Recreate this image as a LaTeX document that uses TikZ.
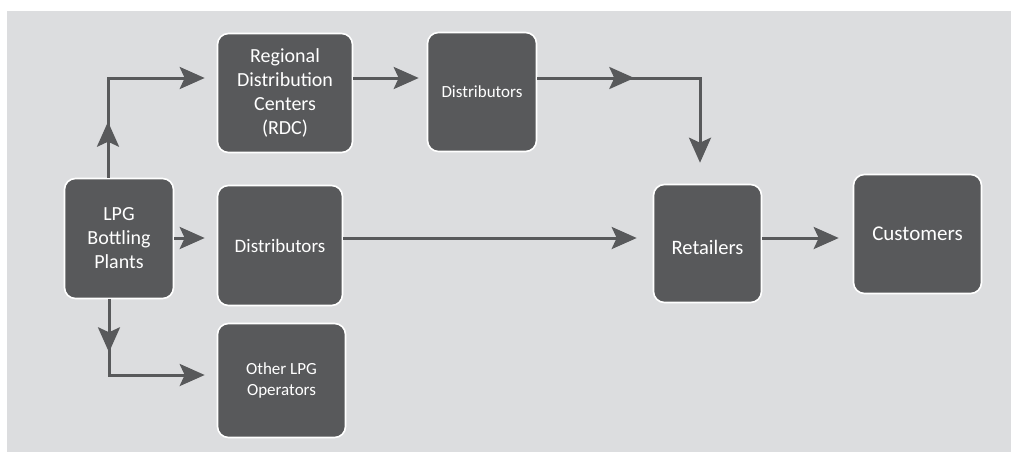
\documentclass[tikz,border=0pt]{standalone}
\usepackage{fontspec}
\setmainfont{Carlito}
\usetikzlibrary{arrows.meta,decorations.markings,calc}
\definecolor{panel}{HTML}{DCDDDF}
\definecolor{boxfill}{HTML}{58595B}
\tikzset{
  stage/.style={rectangle, rounded corners=11pt, fill=boxfill, draw=white,
    line width=1.6pt, text=white, align=center, inner sep=0pt},
  flow/.style={draw=boxfill, line width=3pt,
    -{Stealth[length=25pt,width=22pt,inset=5pt]}},
  midtip/.style={postaction={decorate, decoration={markings,
    mark=at position #1 with {\arrow{Stealth[length=25pt,width=22pt,inset=5pt,color=boxfill]}}}}}
}
\begin{document}
\begin{tikzpicture}[x=1pt,y=-1pt]
  \useasboundingbox (0,0) rectangle (1011,452);
  \fill[panel] (7,11) rectangle (1011,452);

  % boxes
  \node[stage, minimum width=109pt, minimum height=120pt, font=\fontsize{20}{24}\selectfont]
    (lpg) at (119,238.5) {LPG\\Bottling\\Plants};
  \node[stage, minimum width=135pt, minimum height=119pt, font=\fontsize{20}{24}\selectfont]
    (rdc) at (285,93) {Regional\\Distribution\\Centers\\(RDC)};
  \node[stage, minimum width=109pt, minimum height=119pt, font=\fontsize{17}{20}\selectfont]
    (dtop) at (482,92) {Distributors};
  \node[stage, minimum width=125pt, minimum height=120pt, font=\fontsize{19}{23}\selectfont]
    (dmid) at (280,245.5) {Distributors};
  \node[stage, minimum width=128pt, minimum height=114pt, font=\fontsize{17}{21}\selectfont]
    (other) at (281.5,380.5) {Other LPG\\Operators};
  \node[stage, minimum width=108pt, minimum height=118pt, font=\fontsize{20.5}{24}\selectfont]
    (ret) at (707.5,243.5) {\raisebox{-4.5pt}[13pt][0pt]{Retailers}};
  \node[stage, minimum width=128pt, minimum height=119pt, font=\fontsize{21}{25}\selectfont]
    (cust) at (917.5,234) {Customers};

  % bends of the elbow connectors
  \coordinate (upbend) at (108,78);
  \coordinate (downbend) at (109,375);
  \coordinate (rightbend) at (700,78);

  % connectors
  \draw[flow, midtip=56pt, shorten >=12pt] (lpg.north -| upbend) -- (upbend) -- (rdc.west |- upbend);
  \draw[flow, shorten >=12pt] (lpg.east |- 0,238) -- (dmid.west |- 0,238);
  \draw[flow, midtip=53pt, shorten >=12pt] (lpg.south -| downbend) -- (downbend) -- (other.west |- downbend);
  \draw[flow, shorten >=8pt] (rdc.east |- upbend) -- (dtop.west |- upbend);
  \draw[flow, midtip=97pt, shorten >=21pt] (dtop.east |- rightbend) -- (rightbend) -- (ret.north -| rightbend);
  \draw[flow, shorten >=16pt] (dmid.east |- 0,238) -- (ret.west |- 0,238);
  \draw[flow, shorten >=14pt] (ret.east |- 0,238) -- (cust.west |- 0,238);
\end{tikzpicture}
\end{document}
